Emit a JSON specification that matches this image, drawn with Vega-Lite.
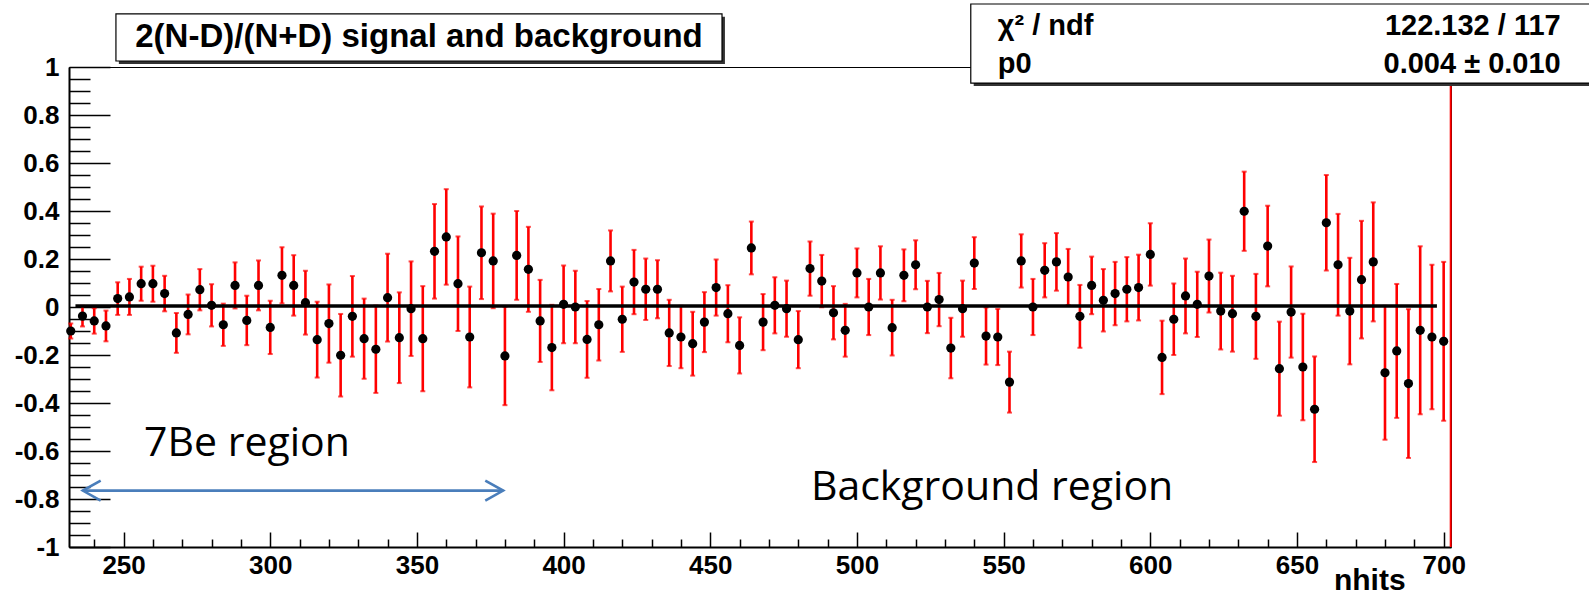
{
  "$schema": "https://vega.github.io/schema/vega-lite/v6.json",
  "width": 1382,
  "height": 480,
  "autosize": {"type": "none"},
  "padding": {"left": 69, "top": 67, "right": 138, "bottom": 50},
  "background": "white",
  "config": {"view": {"stroke": "black", "strokeWidth": 1}},
  "datasets": {
    "pts": [
      {"n":232,"v":-0.100,"lo":-0.131,"hi":-0.069},
      {"n":236,"v":-0.038,"lo":-0.081,"hi":0.005},
      {"n":240,"v":-0.058,"lo":-0.111,"hi":-0.005},
      {"n":244,"v":-0.079,"lo":-0.143,"hi":-0.015},
      {"n":248,"v":0.035,"lo":-0.033,"hi":0.103},
      {"n":252,"v":0.042,"lo":-0.033,"hi":0.117},
      {"n":256,"v":0.097,"lo":0.026,"hi":0.168},
      {"n":260,"v":0.097,"lo":0.022,"hi":0.172},
      {"n":264,"v":0.056,"lo":-0.018,"hi":0.130},
      {"n":268,"v":-0.108,"lo":-0.191,"hi":-0.025},
      {"n":272,"v":-0.031,"lo":-0.114,"hi":0.052},
      {"n":276,"v":0.072,"lo":-0.014,"hi":0.158},
      {"n":280,"v":0.007,"lo":-0.081,"hi":0.095},
      {"n":284,"v":-0.074,"lo":-0.162,"hi":0.014},
      {"n":288,"v":0.090,"lo":-0.006,"hi":0.186},
      {"n":292,"v":-0.056,"lo":-0.159,"hi":0.047},
      {"n":296,"v":0.090,"lo":-0.014,"hi":0.194},
      {"n":300,"v":-0.085,"lo":-0.196,"hi":0.026},
      {"n":304,"v":0.132,"lo":0.015,"hi":0.249},
      {"n":308,"v":0.090,"lo":-0.036,"hi":0.216},
      {"n":312,"v":0.018,"lo":-0.115,"hi":0.151},
      {"n":316,"v":-0.136,"lo":-0.294,"hi":0.022},
      {"n":320,"v":-0.069,"lo":-0.232,"hi":0.094},
      {"n":324,"v":-0.201,"lo":-0.373,"hi":-0.029},
      {"n":328,"v":-0.039,"lo":-0.207,"hi":0.129},
      {"n":332,"v":-0.132,"lo":-0.299,"hi":0.035},
      {"n":336,"v":-0.176,"lo":-0.358,"hi":0.006},
      {"n":340,"v":0.039,"lo":-0.144,"hi":0.222},
      {"n":344,"v":-0.128,"lo":-0.317,"hi":0.061},
      {"n":348,"v":-0.007,"lo":-0.204,"hi":0.190},
      {"n":352,"v":-0.132,"lo":-0.351,"hi":0.087},
      {"n":356,"v":0.232,"lo":0.035,"hi":0.429},
      {"n":360,"v":0.292,"lo":0.093,"hi":0.491},
      {"n":364,"v":0.097,"lo":-0.100,"hi":0.294},
      {"n":368,"v":-0.125,"lo":-0.335,"hi":0.085},
      {"n":372,"v":0.226,"lo":0.033,"hi":0.419},
      {"n":376,"v":0.192,"lo":-0.005,"hi":0.389},
      {"n":380,"v":-0.204,"lo":-0.409,"hi":0.001},
      {"n":384,"v":0.215,"lo":0.030,"hi":0.400},
      {"n":388,"v":0.157,"lo":-0.020,"hi":0.334},
      {"n":392,"v":-0.058,"lo":-0.229,"hi":0.113},
      {"n":396,"v":-0.169,"lo":-0.347,"hi":0.009},
      {"n":400,"v":0.011,"lo":-0.151,"hi":0.173},
      {"n":404,"v":0.000,"lo":-0.151,"hi":0.151},
      {"n":408,"v":-0.135,"lo":-0.295,"hi":0.025},
      {"n":412,"v":-0.074,"lo":-0.223,"hi":0.075},
      {"n":416,"v":0.192,"lo":0.065,"hi":0.319},
      {"n":420,"v":-0.051,"lo":-0.187,"hi":0.085},
      {"n":424,"v":0.104,"lo":-0.030,"hi":0.238},
      {"n":428,"v":0.074,"lo":-0.054,"hi":0.202},
      {"n":432,"v":0.074,"lo":-0.047,"hi":0.195},
      {"n":436,"v":-0.108,"lo":-0.246,"hi":0.030},
      {"n":440,"v":-0.125,"lo":-0.255,"hi":0.005},
      {"n":444,"v":-0.153,"lo":-0.286,"hi":-0.020},
      {"n":448,"v":-0.063,"lo":-0.188,"hi":0.062},
      {"n":452,"v":0.081,"lo":-0.036,"hi":0.198},
      {"n":456,"v":-0.028,"lo":-0.147,"hi":0.091},
      {"n":460,"v":-0.160,"lo":-0.277,"hi":-0.043},
      {"n":464,"v":0.246,"lo":0.136,"hi":0.356},
      {"n":468,"v":-0.063,"lo":-0.180,"hi":0.054},
      {"n":472,"v":0.007,"lo":-0.110,"hi":0.124},
      {"n":476,"v":-0.007,"lo":-0.124,"hi":0.110},
      {"n":480,"v":-0.136,"lo":-0.255,"hi":-0.017},
      {"n":484,"v":0.160,"lo":0.047,"hi":0.273},
      {"n":488,"v":0.108,"lo":-0.001,"hi":0.217},
      {"n":492,"v":-0.024,"lo":-0.135,"hi":0.087},
      {"n":496,"v":-0.097,"lo":-0.207,"hi":0.013},
      {"n":500,"v":0.142,"lo":0.040,"hi":0.244},
      {"n":504,"v":0.000,"lo":-0.117,"hi":0.117},
      {"n":508,"v":0.142,"lo":0.031,"hi":0.253},
      {"n":512,"v":-0.086,"lo":-0.202,"hi":0.030},
      {"n":516,"v":0.132,"lo":0.024,"hi":0.240},
      {"n":520,"v":0.176,"lo":0.074,"hi":0.278},
      {"n":524,"v":0.000,"lo":-0.109,"hi":0.109},
      {"n":528,"v":0.031,"lo":-0.080,"hi":0.142},
      {"n":532,"v":-0.171,"lo":-0.297,"hi":-0.045},
      {"n":536,"v":-0.007,"lo":-0.124,"hi":0.110},
      {"n":540,"v":0.183,"lo":0.075,"hi":0.291},
      {"n":544,"v":-0.121,"lo":-0.240,"hi":-0.002},
      {"n":548,"v":-0.125,"lo":-0.242,"hi":-0.008},
      {"n":552,"v":-0.313,"lo":-0.440,"hi":-0.186},
      {"n":556,"v":0.192,"lo":0.081,"hi":0.303},
      {"n":560,"v":0.000,"lo":-0.117,"hi":0.117},
      {"n":564,"v":0.153,"lo":0.040,"hi":0.266},
      {"n":568,"v":0.188,"lo":0.068,"hi":0.308},
      {"n":572,"v":0.125,"lo":0.008,"hi":0.242},
      {"n":576,"v":-0.039,"lo":-0.170,"hi":0.092},
      {"n":580,"v":0.090,"lo":-0.030,"hi":0.210},
      {"n":584,"v":0.028,"lo":-0.102,"hi":0.158},
      {"n":588,"v":0.056,"lo":-0.076,"hi":0.188},
      {"n":592,"v":0.074,"lo":-0.060,"hi":0.208},
      {"n":596,"v":0.081,"lo":-0.056,"hi":0.218},
      {"n":600,"v":0.219,"lo":0.089,"hi":0.349},
      {"n":604,"v":-0.210,"lo":-0.363,"hi":-0.057},
      {"n":608,"v":-0.051,"lo":-0.200,"hi":0.098},
      {"n":612,"v":0.046,"lo":-0.110,"hi":0.202},
      {"n":616,"v":0.011,"lo":-0.125,"hi":0.147},
      {"n":620,"v":0.129,"lo":-0.023,"hi":0.281},
      {"n":624,"v":-0.017,"lo":-0.177,"hi":0.143},
      {"n":628,"v":-0.028,"lo":-0.186,"hi":0.130},
      {"n":632,"v":0.399,"lo":0.234,"hi":0.564},
      {"n":636,"v":-0.039,"lo":-0.216,"hi":0.138},
      {"n":640,"v":0.254,"lo":0.086,"hi":0.422},
      {"n":644,"v":-0.257,"lo":-0.453,"hi":-0.061},
      {"n":648,"v":-0.021,"lo":-0.211,"hi":0.169},
      {"n":652,"v":-0.250,"lo":-0.472,"hi":-0.028},
      {"n":656,"v":-0.426,"lo":-0.646,"hi":-0.206},
      {"n":660,"v":0.351,"lo":0.152,"hi":0.550},
      {"n":664,"v":0.176,"lo":-0.036,"hi":0.388},
      {"n":668,"v":-0.017,"lo":-0.239,"hi":0.205},
      {"n":672,"v":0.114,"lo":-0.131,"hi":0.359},
      {"n":676,"v":0.188,"lo":-0.060,"hi":0.436},
      {"n":680,"v":-0.274,"lo":-0.553,"hi":0.005},
      {"n":684,"v":-0.183,"lo":-0.462,"hi":0.096},
      {"n":688,"v":-0.319,"lo":-0.629,"hi":-0.009},
      {"n":692,"v":-0.097,"lo":-0.447,"hi":0.253},
      {"n":696,"v":-0.125,"lo":-0.426,"hi":0.176},
      {"n":700,"v":-0.143,"lo":-0.474,"hi":0.188}
    ]
  },
  "resolve": {"axis": {"x": "independent", "y": "independent"}},
  "layer": [
    {
      "data": {"values": [{"n": 702.4}]},
      "mark": {"type": "rule", "color": "#ff0000", "strokeWidth": 2},
      "encoding": {
        "x": {"field": "n", "type": "quantitative", "scale": {"domain": [231.4, 702.5], "nice": false, "zero": false}, "axis": null}
      }
    },
    {
      "data": {"name": "pts"},
      "mark": {"type": "rule", "color": "#ff0000", "strokeWidth": 2.6},
      "encoding": {
        "x": {"field": "n", "type": "quantitative", "scale": {"domain": [231.4, 702.5], "nice": false, "zero": false},
          "axis": {"orient": "bottom", "values": [250,300,350,400,450,500,550,600,650,700], "ticks": false, "domain": true, "domainColor": "black", "domainWidth": 2, "grid": false, "title": null, "labelFont": "Liberation Sans", "labelFontWeight": "bold", "labelFontSize": 26, "labelColor": "black", "labelPadding": 5, "labelFlush": false, "labelOverlap": false}},
        "y": {"field": "lo", "type": "quantitative", "scale": {"domain": [-1, 1], "nice": false, "zero": false},
          "axis": {"orient": "left", "values": [-1,-0.8,-0.6,-0.4,-0.2,0,0.2,0.4,0.6,0.8,1], "ticks": false, "domain": true, "domainColor": "black", "domainWidth": 2, "grid": false, "title": null, "labelFont": "Liberation Sans", "labelFontWeight": "bold", "labelFontSize": 26, "labelColor": "black", "labelPadding": 10, "labelFlush": false, "labelOverlap": false, "labelExpr": "'' + datum.value"}},
        "y2": {"field": "hi"}
      }
    },
    {
      "data": {"name": "pts"},
      "mark": {"type": "tick", "orient": "horizontal", "color": "#ff0000", "size": 5, "thickness": 2},
      "encoding": {
        "x": {"field": "n", "type": "quantitative", "scale": {"domain": [231.4, 702.5], "nice": false, "zero": false},
          "axis": {"orient": "top", "offset": -480, "values": [250,300,350,400,450,500,550,600,650,700], "labels": false, "domain": false, "ticks": true, "tickSize": 15, "tickWidth": 1.5, "tickColor": "black", "grid": false, "title": null}},
        "y": {"field": "lo", "type": "quantitative", "scale": {"domain": [-1, 1], "nice": false, "zero": false},
          "axis": {"orient": "right", "offset": -1382, "values": [-1,-0.8,-0.6,-0.4,-0.2,0,0.2,0.4,0.6,0.8,1], "labels": false, "domain": false, "ticks": true, "tickSize": 41, "tickWidth": 1.5, "tickColor": "black", "grid": false, "title": null}}
      }
    },
    {
      "data": {"name": "pts"},
      "mark": {"type": "tick", "orient": "horizontal", "color": "#ff0000", "size": 5, "thickness": 2},
      "encoding": {
        "x": {"field": "n", "type": "quantitative", "scale": {"domain": [231.4, 702.5], "nice": false, "zero": false},
          "axis": {"orient": "top", "offset": -480, "values": [240,260,270,280,290,310,320,330,340,360,370,380,390,410,420,430,440,460,470,480,490,510,520,530,540,560,570,580,590,610,620,630,640,660,670,680,690], "labels": false, "domain": false, "ticks": true, "tickSize": 8, "tickWidth": 1.5, "tickColor": "black", "grid": false, "title": null}},
        "y": {"field": "hi", "type": "quantitative", "scale": {"domain": [-1, 1], "nice": false, "zero": false},
          "axis": {"orient": "right", "offset": -1382, "values": [-0.95,-0.9,-0.85,-0.75,-0.7,-0.65,-0.55,-0.5,-0.45,-0.35,-0.3,-0.25,-0.15,-0.1,-0.05,0.05,0.1,0.15,0.25,0.3,0.35,0.45,0.5,0.55,0.65,0.7,0.75,0.85,0.9,0.95], "labels": false, "domain": false, "ticks": true, "tickSize": 21, "tickWidth": 1.5, "tickColor": "black", "grid": false, "title": null}}
      }
    },
    {
      "data": {"values": [{"n": 233.6, "v": 0.004}, {"n": 697.7, "v": 0.004}]},
      "mark": {"type": "line", "color": "black", "strokeWidth": 3.4},
      "encoding": {
        "x": {"field": "n", "type": "quantitative", "scale": {"domain": [231.4, 702.5], "nice": false, "zero": false}, "axis": null},
        "y": {"field": "v", "type": "quantitative", "scale": {"domain": [-1, 1], "nice": false, "zero": false}, "axis": null}
      }
    },
    {
      "data": {"name": "pts"},
      "mark": {"type": "point", "shape": "circle", "filled": true, "color": "black", "size": 85, "opacity": 1},
      "encoding": {
        "x": {"field": "n", "type": "quantitative", "scale": {"domain": [231.4, 702.5], "nice": false, "zero": false}, "axis": null},
        "y": {"field": "v", "type": "quantitative", "scale": {"domain": [-1, 1], "nice": false, "zero": false}, "axis": null}
      }
    },
    {
      "data": {"values": [
        {"s": "shaft", "o": 0, "n": 236.1, "v": -0.765}, {"s": "shaft", "o": 1, "n": 379.4, "v": -0.765},
        {"s": "L", "o": 0, "n": 242.2, "v": -0.723}, {"s": "L", "o": 1, "n": 236.1, "v": -0.765}, {"s": "L", "o": 2, "n": 242.2, "v": -0.807},
        {"s": "R", "o": 0, "n": 373.3, "v": -0.723}, {"s": "R", "o": 1, "n": 379.4, "v": -0.765}, {"s": "R", "o": 2, "n": 373.3, "v": -0.807}
      ]},
      "mark": {"type": "line", "color": "#4a7ebb", "strokeWidth": 2.6},
      "encoding": {
        "x": {"field": "n", "type": "quantitative", "scale": {"domain": [231.4, 702.5], "nice": false, "zero": false}, "axis": null},
        "y": {"field": "v", "type": "quantitative", "scale": {"domain": [-1, 1], "nice": false, "zero": false}, "axis": null},
        "detail": {"field": "s"},
        "order": {"field": "o"}
      }
    },
    {
      "data": {"values": [{"x1": 248.4, "x2": 455.0, "y1": 1.209, "y2": 1.0125}, {"x1": 539.8, "x2": 752, "y1": 1.25, "y2": 0.9205}]},
      "mark": {"type": "rect", "fill": "#333333", "stroke": null},
      "encoding": {
        "x": {"field": "x1", "type": "quantitative", "scale": {"domain": [231.4, 702.5], "nice": false, "zero": false}, "axis": null},
        "x2": {"field": "x2"},
        "y": {"field": "y1", "type": "quantitative", "scale": {"domain": [-1, 1], "nice": false, "zero": false}, "axis": null},
        "y2": {"field": "y2"}
      }
    },
    {
      "data": {"values": [{"x1": 247.4, "x2": 454.0, "y1": 1.221, "y2": 1.025}, {"x1": 538.8, "x2": 751, "y1": 1.2625, "y2": 0.933}]},
      "mark": {"type": "rect", "fill": "white", "stroke": "black", "strokeWidth": 1.2},
      "encoding": {
        "x": {"field": "x1", "type": "quantitative", "scale": {"domain": [231.4, 702.5], "nice": false, "zero": false}, "axis": null},
        "x2": {"field": "x2"},
        "y": {"field": "y1", "type": "quantitative", "scale": {"domain": [-1, 1], "nice": false, "zero": false}, "axis": null},
        "y2": {"field": "y2"}
      }
    },
    {
      "data": {"values": [{"n": 350.7, "v": 1.125, "t": "2(N-D)/(N+D) signal and background"}]},
      "mark": {"type": "text", "font": "Liberation Sans", "fontWeight": "bold", "fontSize": 33, "align": "center", "baseline": "middle", "color": "black"},
      "encoding": {
        "x": {"field": "n", "type": "quantitative", "scale": {"domain": [231.4, 702.5], "nice": false, "zero": false}, "axis": null},
        "y": {"field": "v", "type": "quantitative", "scale": {"domain": [-1, 1], "nice": false, "zero": false}, "axis": null},
        "text": {"field": "t"}
      }
    },
    {
      "data": {"values": [{"n": 674.8, "v": -1.18, "t": "nhits"}]},
      "mark": {"type": "text", "font": "Liberation Sans", "fontWeight": "bold", "fontSize": 30, "align": "center", "baseline": "alphabetic", "color": "black"},
      "encoding": {
        "x": {"field": "n", "type": "quantitative", "scale": {"domain": [231.4, 702.5], "nice": false, "zero": false}, "axis": null},
        "y": {"field": "v", "type": "quantitative", "scale": {"domain": [-1, 1], "nice": false, "zero": false}, "axis": null},
        "text": {"field": "t"}
      }
    },
    {
      "data": {"values": [{"n": 548.0, "v": 1.171, "t": "χ² / ndf"}, {"n": 548.0, "v": 1.0125, "t": "p0"}]},
      "mark": {"type": "text", "font": "Liberation Sans", "fontWeight": "bold", "fontSize": 29, "align": "left", "baseline": "middle", "color": "black"},
      "encoding": {
        "x": {"field": "n", "type": "quantitative", "scale": {"domain": [231.4, 702.5], "nice": false, "zero": false}, "axis": null},
        "y": {"field": "v", "type": "quantitative", "scale": {"domain": [-1, 1], "nice": false, "zero": false}, "axis": null},
        "text": {"field": "t"}
      }
    },
    {
      "data": {"values": [{"n": 739.9, "v": 1.171, "t": "122.132 / 117"}, {"n": 739.9, "v": 1.0125, "t": "0.004 ± 0.010"}]},
      "mark": {"type": "text", "font": "Liberation Sans", "fontWeight": "bold", "fontSize": 29, "align": "right", "baseline": "middle", "color": "black"},
      "encoding": {
        "x": {"field": "n", "type": "quantitative", "scale": {"domain": [231.4, 702.5], "nice": false, "zero": false}, "axis": null},
        "y": {"field": "v", "type": "quantitative", "scale": {"domain": [-1, 1], "nice": false, "zero": false}, "axis": null},
        "text": {"field": "t"}
      }
    },
    {
      "data": {"values": [{"n": 257.0, "v": -0.571, "t": "7Be region"}, {"n": 484.3, "v": -0.754, "t": "Background region"}]},
      "mark": {"type": "text", "font": "Open Sans", "fontSize": 41, "align": "left", "baseline": "middle", "color": "black"},
      "encoding": {
        "x": {"field": "n", "type": "quantitative", "scale": {"domain": [231.4, 702.5], "nice": false, "zero": false}, "axis": null},
        "y": {"field": "v", "type": "quantitative", "scale": {"domain": [-1, 1], "nice": false, "zero": false}, "axis": null},
        "text": {"field": "t"}
      }
    }
  ]
}
